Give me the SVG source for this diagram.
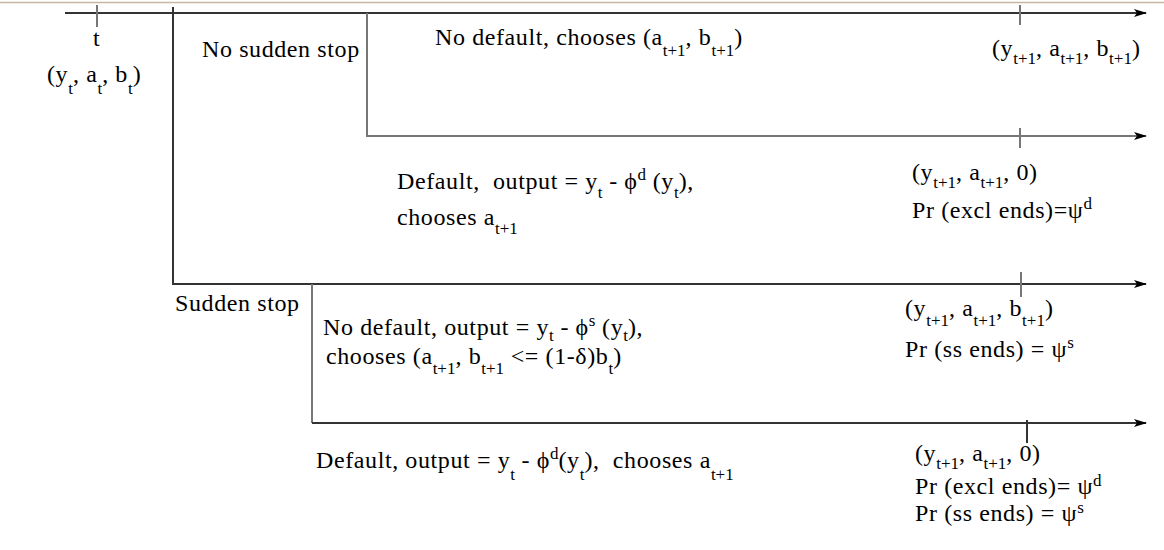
<svg xmlns="http://www.w3.org/2000/svg" width="1164" height="550" viewBox="0 0 1164 550">
<style>
text{font-family:"Liberation Serif","Times New Roman",serif;font-size:24px;fill:#000;letter-spacing:0.6px;white-space:pre}
.s{font-size:17px;letter-spacing:0}
.ln{stroke:#333;stroke-width:2;fill:none}
.g{stroke:#777;stroke-width:2;fill:none}
</style>
<defs>
<marker id="ah" markerUnits="userSpaceOnUse" markerWidth="14" markerHeight="10" refX="12" refY="5" orient="auto">
<path d="M0,1 L13,5 L0,9 L3,5 z" fill="#000"/>
</marker>
</defs>
<rect width="1164" height="550" fill="#fff"/>
<line x1="0" y1="2.5" x2="1164" y2="2.5" stroke="#c4b9a0" stroke-width="1.5"/>
<g id="connectors">
<path class="ln" d="M65 13 H1146" marker-end="url(#ah)"/>
<path class="g" d="M97 5 V27"/>
<path class="ln" d="M173 7 V284 H1146" marker-end="url(#ah)"/>
<path class="g" d="M367 13 V136 H1146" marker-end="url(#ah)"/>
<path class="g" d="M1020 5 V25"/>
<path class="g" d="M1020 128 V148"/>
<path class="g" d="M1021 272 V297"/>
<path class="g" d="M312 284 V423"/>
<path class="ln" d="M312 423 H1146" marker-end="url(#ah)"/>
<path class="ln" d="M1027 420 V443"/>
</g>
<g id="t0">
<text x="93" y="46">t</text>
<text x="47" y="82">(y<tspan class="s" dy="12">t</tspan><tspan dy="-12">, a</tspan><tspan class="s" dy="12">t</tspan><tspan dy="-12">, b</tspan><tspan class="s" dy="12">t</tspan><tspan dy="-12">)</tspan></text>
</g>
<g id="nss">
<text x="202" y="57">No sudden stop</text>
</g>
<g id="nss-nd">
<text x="435" y="45">No default, chooses (a<tspan class="s" dy="11">t+1</tspan><tspan dy="-11">, b</tspan><tspan class="s" dy="11">t+1</tspan><tspan dy="-11">)</tspan></text>
</g>
<g id="nss-nd-end">
<text x="992" y="56">(y<tspan class="s" dy="8">t+1</tspan><tspan dy="-8">, a</tspan><tspan class="s" dy="8">t+1</tspan><tspan dy="-8">, b</tspan><tspan class="s" dy="8">t+1</tspan><tspan dy="-8">)</tspan></text>
</g>
<g id="nss-d">
<text x="397" y="189">Default,  output = y<tspan class="s" dy="9">t</tspan><tspan dy="-9"> - ϕ</tspan><tspan class="s" dy="-9">d</tspan><tspan dy="9"> (y</tspan><tspan class="s" dy="9">t</tspan><tspan dy="-9">),</tspan></text>
<text x="397" y="225">chooses a<tspan class="s" dy="9">t+1</tspan></text>
</g>
<g id="nss-d-end">
<text x="912" y="180">(y<tspan class="s" dy="8">t+1</tspan><tspan dy="-8">, a</tspan><tspan class="s" dy="8">t+1</tspan><tspan dy="-8">, 0)</tspan></text>
<text x="912" y="218">Pr (excl ends)=ψ<tspan class="s" dy="-9">d</tspan></text>
</g>
<g id="ss">
<text x="175" y="311">Sudden stop</text>
</g>
<g id="ss-nd">
<text x="323" y="335">No default, output = y<tspan class="s" dy="6">t</tspan><tspan dy="-6"> - ϕ</tspan><tspan class="s" dy="-9">s</tspan><tspan dy="9"> (y</tspan><tspan class="s" dy="6">t</tspan><tspan dy="-6">),</tspan></text>
<text x="326" y="364">chooses (a<tspan class="s" dy="10">t+1</tspan><tspan dy="-10">, b</tspan><tspan class="s" dy="10">t+1</tspan><tspan dy="-10"> &lt;= (1-δ)b</tspan><tspan class="s" dy="10">t</tspan><tspan dy="-10">)</tspan></text>
</g>
<g id="ss-nd-end">
<text x="905" y="316">(y<tspan class="s" dy="10">t+1</tspan><tspan dy="-10">, a</tspan><tspan class="s" dy="10">t+1</tspan><tspan dy="-10">, b</tspan><tspan class="s" dy="10">t+1</tspan><tspan dy="-10">)</tspan></text>
<text x="905" y="357">Pr (ss ends) = ψ<tspan class="s" dy="-9">s</tspan></text>
</g>
<g id="ss-d">
<text x="316" y="468">Default, output = y<tspan class="s" dy="12">t</tspan><tspan dy="-12"> - ϕ</tspan><tspan class="s" dy="-9">d</tspan><tspan dy="9">(y</tspan><tspan class="s" dy="12">t</tspan><tspan dy="-12">),  chooses a</tspan><tspan class="s" dy="12">t+1</tspan></text>
</g>
<g id="ss-d-end">
<text x="915" y="461">(y<tspan class="s" dy="8">t+1</tspan><tspan dy="-8">, a</tspan><tspan class="s" dy="8">t+1</tspan><tspan dy="-8">, 0)</tspan></text>
<text x="915" y="494">Pr (excl ends)= ψ<tspan class="s" dy="-8">d</tspan></text>
<text x="915" y="521">Pr (ss ends) = ψ<tspan class="s" dy="-8">s</tspan></text>
</g>
</svg>
